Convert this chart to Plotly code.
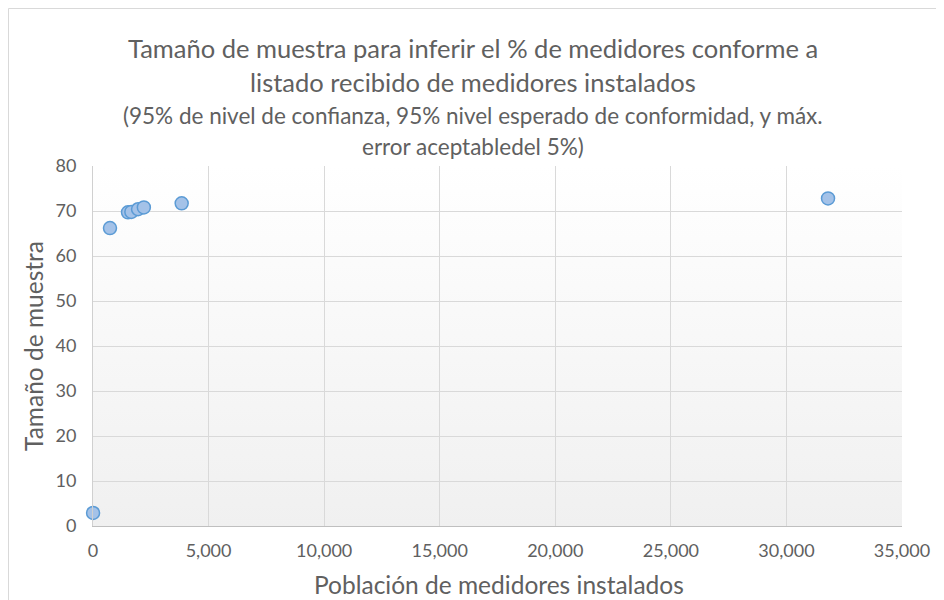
import plotly.graph_objects as go
import urllib.parse

poblacion = [3, 735, 1514, 1660, 1950, 2200, 3836, 31800]
muestra = [2.9, 66.2, 69.7, 69.8, 70.4, 70.8, 71.7, 72.8]

x_ticks = [0, 5000, 10000, 15000, 20000, 25000, 30000, 35000]
y_ticks = [0, 10, 20, 30, 40, 50, 60, 70, 80]

title_lines = ["Tamaño de muestra para inferir el % de medidores conforme a",
               "listado recibido de medidores instalados"]
subtitle_lines = ["(95% de nivel de confianza, 95% nivel esperado de conformidad, y máx.",
                  "error aceptabledel 5%)"]

OFF = 8  # page offset of the figure
W, H = 936, 592
L, R, T, B = 85, 42, 158, 74
pw, ph = W - L - R, H - T - B

svg = ("<svg xmlns='http://www.w3.org/2000/svg' width='100' height='100' preserveAspectRatio='none'>"
       "<defs><linearGradient id='g' x1='0' y1='0' x2='0' y2='1'>"
       "<stop offset='0' stop-color='#ffffff'/><stop offset='1' stop-color='#f0f0f0'/>"
       "</linearGradient></defs><rect width='100' height='100' fill='url(#g)'/></svg>")
src = "data:image/svg+xml;charset=utf-8," + urllib.parse.quote(svg)

font = "Lato"
grey = "#606060"

fig = go.Figure()
fig.add_trace(go.Scatter(
    x=poblacion, y=muestra, mode="markers",
    marker=dict(size=13, color="#a4c2e8", line=dict(color="#5b9bd5", width=1.5)),
    cliponaxis=False, showlegend=False, hoverinfo="x+y"))

fig.add_layout_image(dict(source=src, xref="paper", yref="paper", x=0, y=1,
                          sizex=1, sizey=1, sizing="stretch", layer="below"))

def px2x(p):
    return (p - OFF - L) / pw

def py2y(p):
    return (H - B - (p - OFF)) / ph

fig.add_shape(type="rect", xref="paper", yref="paper",
              x0=px2x(8.5), x1=px2x(942.5), y0=py2y(612), y1=py2y(8.5),
              line=dict(color="#d9d9d9", width=1), fillcolor="rgba(0,0,0,0)", layer="below")

ann = []
for txt, py, sz in [(title_lines[0], 48, 25.5), (title_lines[1], 82, 25.5),
                    (subtitle_lines[0], 115, 22.5), (subtitle_lines[1], 146, 22.5)]:
    ann.append(dict(text=txt, xref="paper", yref="paper", x=px2x(473), y=py2y(py),
                    xanchor="center", yanchor="middle", showarrow=False,
                    font=dict(family=font, size=sz, color=grey)))
ann.append(dict(text="Población de medidores instalados", xref="paper", yref="paper",
                x=px2x(499), y=py2y(584), xanchor="center", yanchor="middle", showarrow=False,
                font=dict(family=font, size=24.5, color=grey)))
ann.append(dict(text="Tamaño de muestra", xref="paper", yref="paper",
                x=px2x(33), y=py2y(346), xanchor="center", yanchor="middle", showarrow=False,
                textangle=-90, font=dict(family=font, size=24.5, color=grey)))

fig.update_layout(
    width=W, height=H,
    margin=dict(l=L, r=R, t=T, b=B),
    paper_bgcolor="white", plot_bgcolor="rgba(0,0,0,0)",
    annotations=ann,
    font=dict(family=font, color=grey),
)
fig.update_xaxes(range=[0, 35000], tickvals=x_ticks, tickformat=",d",
                 showgrid=True, gridcolor="#d9d9d9", gridwidth=1,
                 zeroline=False, showline=True, linecolor="#bfbfbf", linewidth=1,
                 ticks="", tickfont=dict(family=font, size=18, color=grey), ticklabelstandoff=8)
fig.update_yaxes(range=[0, 80], tickvals=y_ticks,
                 showgrid=True, gridcolor="#d9d9d9", gridwidth=1,
                 zeroline=False, showline=True, linecolor="#d0d0d0", linewidth=1,
                 ticks="", tickfont=dict(family=font, size=18, color=grey), ticklabelstandoff=12)

fig.write_html("out.html")
